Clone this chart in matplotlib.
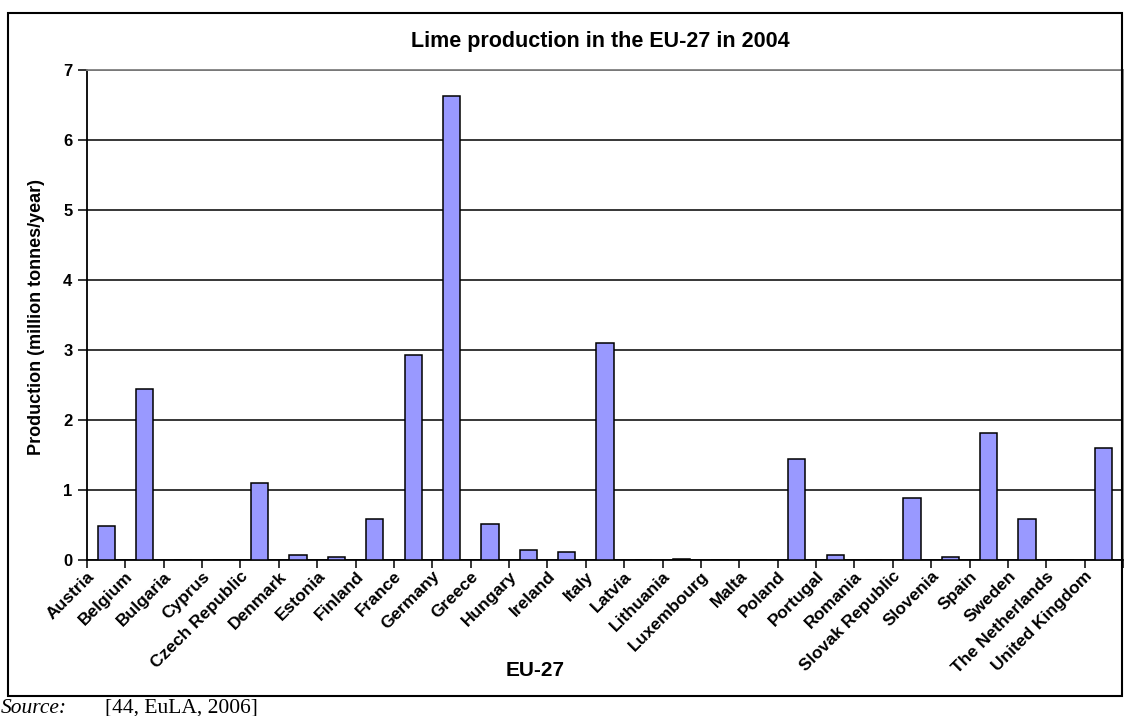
import numpy as np
import matplotlib.pyplot as plt
from matplotlib.patches import Rectangle

countries = ["Austria", "Belgium", "Bulgaria", "Cyprus", "Czech Republic", "Denmark",
             "Estonia", "Finland", "France", "Germany", "Greece", "Hungary", "Ireland",
             "Italy", "Latvia", "Lithuania", "Luxembourg", "Malta", "Poland", "Portugal",
             "Romania", "Slovak Republic", "Slovenia", "Spain", "Sweden",
             "The Netherlands", "United Kingdom"]
production = [0.48, 2.45, 0.0, 0.0, 1.10, 0.07,
              0.05, 0.58, 2.93, 6.63, 0.52, 0.14, 0.11,
              3.10, 0.0, 0.02, 0.0, 0.0, 1.45, 0.07,
              0.0, 0.88, 0.05, 1.81, 0.59,
              0.0, 1.60]
yticks = [0, 1, 2, 3, 4, 5, 6, 7]

plt.rcParams['font.family'] = ['Liberation Sans', 'DejaVu Sans']

W, H = 1129, 716
fig = plt.figure(figsize=(W / 100, H / 100), dpi=100)
ax = fig.add_axes([87 / W, 1 - 560 / H, (1123 - 87) / W, 490 / H])

x = np.arange(len(countries))
ax.bar(x, production, width=0.45, color='#9999FF', edgecolor='black', linewidth=1.1, zorder=3)

ax.set_xlim(-0.5, len(countries) - 0.5)
ax.set_ylim(0, 7)
ax.set_yticks(yticks)
ax.set_yticklabels([str(v) for v in yticks], fontsize=12, fontweight='bold')
ax.yaxis.grid(True, color='black', linewidth=1.1, zorder=0)
ax.tick_params(axis='y', length=6.5, width=1.1, pad=4)

# tick marks on category boundaries, labels shifted left like Excel does
ax.set_xticks(np.arange(len(countries) + 1) - 0.5, minor=True)
ax.tick_params(axis='x', which='minor', length=6, width=1.1, direction='out')
ax.set_xticks(x - 0.36)
ax.set_xticklabels(countries, rotation=45, ha='right', va='center',
                   rotation_mode='anchor', fontsize=12.5, fontweight='bold')
ax.tick_params(axis='x', which='major', length=0, pad=10)

for side in ['left', 'bottom']:
    ax.spines[side].set_linewidth(1.3)
    ax.spines[side].set_color('black')
for side in ['top', 'right']:
    ax.spines[side].set_linewidth(1.3)
    ax.spines[side].set_color('#808080')

fig.text(37 / W, 1 - 317 / H, 'Production (million tonnes/year)', rotation=90,
         ha='center', va='center', fontsize=13, fontweight='bold')
fig.text(535 / W, 1 - 670 / H, 'EU-27', ha='center', va='center', fontsize=15, fontweight='bold')
fig.text(600 / W, 1 - 41 / H, 'Lime production in the EU-27 in 2004', ha='center', va='center',
         fontsize=15.5, fontweight='bold')

fig.patches.append(Rectangle((8 / W, 1 - 696 / H), (1122 - 8) / W, (696 - 13) / H,
                             transform=fig.transFigure, fill=False, edgecolor='black', linewidth=1.5))

serif = ['Liberation Serif', 'DejaVu Serif']
fig.text(1 / W, 1 - 713 / H, 'Source:', ha='left', va='baseline', fontsize=15.5, family=serif, style='italic')
fig.text(105 / W, 1 - 713 / H, '[44, EuLA, 2006]', ha='left', va='baseline', fontsize=15.5, family=serif)

fig.savefig('out.png', dpi=100)
